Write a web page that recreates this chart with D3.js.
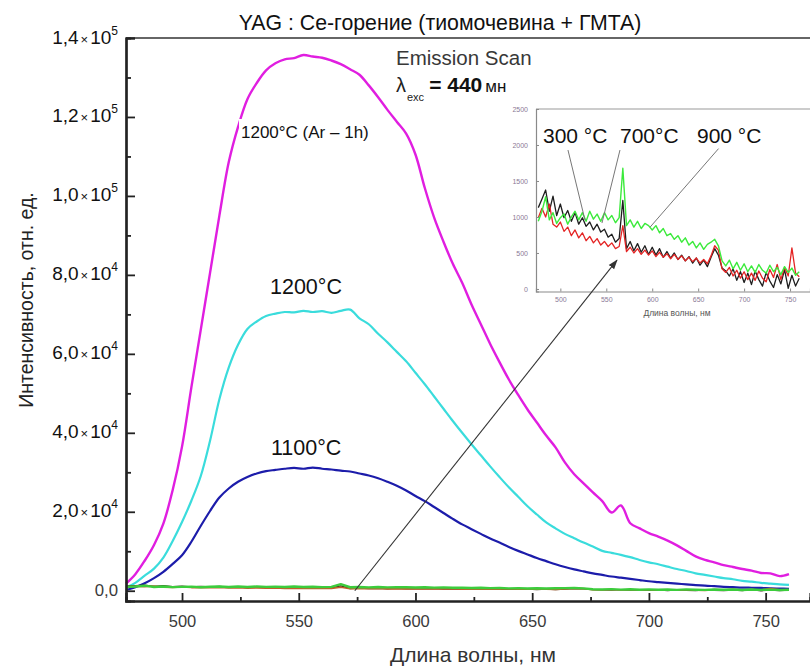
<!DOCTYPE html>
<html>
<head>
<meta charset="utf-8">
<script src="https://cdn.jsdelivr.net/npm/d3@7"></script>
<style>
  html, body { margin: 0; padding: 0; background: #fff; }
  svg { display: block; font-family: "Liberation Sans", Arial, sans-serif; }
</style>
</head>
<body>
<svg id="chart" width="810" height="668"></svg>
<script>
// Emission spectra of YAG:Ce made by combustion synthesis, excitation 440 nm
const wavelength = [476,480,484,488,492,496,500,504,508,512,516,520,524,528,532,536,540,544,548,552,556,560,564,568,572,576,580,584,588,592,596,600,604,608,612,616,620,624,628,632,636,640,644,648,652,656,660,664,668,672,676,680,684,688,692,696,700,704,708,712,716,720,724,728,732,736,740,744,748,752,756,760];

// 1200 °C, annealed in Ar for 1 h
const intensityAr1200 = [1800,4200,7600,11600,17000,25500,36500,51500,66000,80500,95000,108500,117500,124500,128600,131800,133600,134600,134900,135700,135300,135000,134300,133400,132100,130700,128000,125000,121800,118800,115800,110500,102000,94500,88400,82800,78000,72500,67500,62500,57900,53500,49600,45900,42600,39300,36300,32500,29500,27200,24900,22700,19800,21600,17100,15800,14600,13700,12700,11500,10100,8700,7800,7200,6500,6000,5500,5100,4500,4400,3700,4200];
// 1200 °C
const intensity1200 = [800,2000,3800,5600,8400,12600,17400,22800,29000,38000,48500,56500,62300,66300,68200,69600,70200,70600,70500,70900,70600,70800,70400,70900,71200,69000,67500,65100,62900,60500,58100,55200,52300,49200,46100,43000,40000,37100,34300,31500,28800,26200,23800,21400,19300,17300,15800,14400,13300,12200,11200,10100,9600,9100,8500,7800,7200,6700,6100,5500,5000,4400,4000,3600,3200,2900,2500,2300,2000,1800,1600,1500];
// 1100 °C
const intensity1100 = [200,900,1900,3200,4800,6800,9000,12400,16400,20200,23600,25900,27600,28800,29700,30300,30600,30900,31100,30900,31200,30900,30700,30400,30200,29700,29200,28500,27600,26600,25400,24000,22700,21200,19700,18200,16800,15600,14400,13200,12200,11100,10100,9200,8300,7500,6700,6000,5400,4900,4400,4000,3600,3300,3000,2700,2400,2200,2000,1800,1600,1400,1300,1150,1000,900,800,750,700,600,550,500];
// 300 °C
const intensity300 = [1130,1250,1375,1080,1290,1020,1180,990,1090,940,1060,900,990,870,930,820,900,790,830,720,760,650,700,1230,560,660,530,630,510,600,480,580,470,560,440,520,430,500,410,470,390,450,360,430,330,400,310,440,560,470,290,250,180,280,120,240,90,220,60,250,130,40,230,110,20,200,70,270,10,190,40,150];
// 700 °C
const intensity700 = [990,1120,1000,1180,900,860,930,800,860,740,820,710,780,670,730,640,700,610,660,590,640,560,590,880,520,580,500,560,480,540,470,530,450,510,440,490,420,480,410,460,390,440,380,430,360,410,350,460,600,540,280,230,300,180,260,150,240,130,220,120,250,150,100,270,160,340,130,300,180,570,220,170];
// 900 °C
const intensity900 = [940,1080,1280,960,1060,910,990,1040,900,1000,1080,960,1060,940,1080,970,1040,940,1060,960,1020,920,990,1676,880,960,860,940,840,910,880,820,880,780,840,740,770,690,740,650,710,610,660,570,640,550,620,650,690,600,390,320,400,280,370,260,350,240,320,230,340,260,220,330,240,300,200,310,230,290,190,240];

const xTicks = [500, 550, 600, 650, 700, 750];
const xMinorTicks = [525, 575, 625, 675, 725];
const yTicks = [0, 20000, 40000, 60000, 80000, 100000, 120000, 140000];
const yMinorTicks = [10000, 30000, 50000, 70000, 90000, 110000, 130000];
const yMantissa = ["0,0", "2,0", "4,0", "6,0", "8,0", "1,0", "1,2", "1,4"];
const yExponent = [null, "4", "4", "4", "4", "5", "5", "5"];
const insetXTicks = [500, 550, 600, 650, 700, 750];
const insetYTicks = [0, 500, 1000, 1500, 2000, 2500];

const svg = d3.select("#chart");

// ---------- main panel ----------
const x = d3.scaleLinear().domain([476, 769]).range([126, 810]);
const y = d3.scaleLinear().domain([-2600, 140000]).range([601, 38]);

const smoothLine = d3.line()
  .x((d, i) => x(wavelength[i]))
  .y(d => y(d))
  .curve(d3.curveCatmullRom.alpha(0.5));
const line = d3.line()
  .x((d, i) => x(wavelength[i]))
  .y(d => y(d));

function drawSeries(g, values, color, width, gen) {
  g.append("path")
    .datum(values)
    .attr("fill", "none")
    .attr("stroke", color)
    .attr("stroke-width", width)
    .attr("stroke-linejoin", "round")
    .attr("d", gen);
}

const plot = svg.append("g");
drawSeries(plot, intensityAr1200, "#e01ee0", 2.4, smoothLine);
drawSeries(plot, intensity1200, "#3adcdc", 2.2, smoothLine);
drawSeries(plot, intensity1100, "#1c1caa", 2.2, smoothLine);
drawSeries(plot, intensity300, "#3a2a1a", 1.4, line);
drawSeries(plot, intensity700, "#c0602a", 1.6, line);
drawSeries(plot, intensity900, "#3ccc3c", 2.4, line);

// top frame line
svg.append("line")
  .attr("x1", x.range()[0]).attr("x2", x.range()[1])
  .attr("y1", y.range()[1]).attr("y2", y.range()[1])
  .attr("stroke", "#333").attr("stroke-width", 1.6);

// axes (ticks point into the plot)
const xAxis = svg.append("g").attr("transform", `translate(0,${y.range()[0]})`)
  .call(d3.axisBottom(x).tickValues(xTicks).tickSize(-8).tickPadding(14).tickFormat(d3.format("d")));
svg.append("g").attr("transform", `translate(0,${y.range()[0]})`)
  .call(d3.axisBottom(x).tickValues(xMinorTicks).tickSize(-4).tickFormat(""));
svg.append("g").attr("transform", `translate(${x.range()[0]},0)`)
  .call(d3.axisRight(y).tickValues(yTicks).tickSize(9).tickFormat(""));
svg.append("g").attr("transform", `translate(${x.range()[0]},0)`)
  .call(d3.axisRight(y).tickValues(yMinorTicks).tickSize(5).tickFormat(""));

svg.selectAll(".domain").attr("stroke", "#222").attr("stroke-width", 2.2);
svg.selectAll(".tick line").attr("stroke", "#222").attr("stroke-width", 1.8);
xAxis.selectAll(".tick text")
  .attr("font-size", 16.5).attr("fill", "#3a3a3a")
  .attr("font-family", "Liberation Sans, Arial, sans-serif");

// y tick labels: mantissa × 10^exponent
yTicks.forEach((v, i) => {
  const t = svg.append("text")
    .attr("x", 118).attr("y", y(v) + 5.5)
    .attr("text-anchor", "end")
    .attr("fill", i === 0 ? "#3a3a3a" : "#111");
  if (yExponent[i] === null) {
    t.attr("font-size", 16.8).text(yMantissa[i]);
  } else {
    t.append("tspan").attr("font-size", 19).text(yMantissa[i]);
    t.append("tspan").attr("font-size", 13).attr("dx", 2).text("×");
    t.append("tspan").attr("font-size", 19).attr("dx", 2).text("10");
    t.append("tspan").attr("font-size", 12).attr("dy", -9).text(yExponent[i]);
  }
});

// axis titles and heading
svg.append("text")
  .attr("x", 440).attr("y", 30).attr("text-anchor", "middle")
  .attr("font-size", 21.3).attr("fill", "#111")
  .text("YAG : Се-горение (тиомочевина + ГМТА)");
svg.append("text")
  .attr("transform", "translate(33,300) rotate(-90)")
  .attr("text-anchor", "middle").attr("font-size", 19.5).attr("fill", "#222")
  .text("Интенсивность, отн. ед.");
svg.append("text")
  .attr("x", 473).attr("y", 662).attr("text-anchor", "middle")
  .attr("font-size", 21).attr("fill", "#333")
  .text("Длина волны, нм");

// measurement note
svg.append("text")
  .attr("x", 396).attr("y", 65).attr("font-size", 20.5).attr("fill", "#383838")
  .text("Emission Scan");
const exc = svg.append("text").attr("x", 396).attr("y", 92).attr("fill", "#222");
exc.append("tspan").attr("font-size", 20).text("λ");
exc.append("tspan").attr("font-size", 11).attr("dy", 9).attr("dx", 1).text("exc");
exc.append("tspan").attr("font-size", 21).attr("dy", -9).attr("dx", 5)
  .attr("font-weight", "bold").attr("fill", "#111").text("= 440");
exc.append("tspan").attr("font-size", 17).attr("dx", 3).attr("fill", "#111").text("мн");

// curve labels
const lab = svg.append("g");
lab.append("rect").attr("x", 239).attr("y", 119).attr("width", 153).attr("height", 30).attr("fill", "#fff");
lab.append("text").attr("x", 241).attr("y", 138).attr("font-size", 17).attr("fill", "#111")
  .text("1200°C (Ar – 1h)");
lab.append("text").attr("x", 270).attr("y", 294).attr("font-size", 21.5).attr("fill", "#111")
  .text("1200°C");
lab.append("text").attr("x", 271).attr("y", 455).attr("font-size", 21.5).attr("fill", "#111")
  .text("1100°C");

// ---------- inset: low-temperature samples ----------
const ix = d3.scaleLinear().domain([473.5, 771.7]).range([536, 810]);
const iy = d3.scaleLinear().domain([-35, 2500]).range([291.5, 109]);
const iline = d3.line().x((d, i) => ix(wavelength[i])).y(d => iy(d));

const inset = svg.append("g");
inset.append("rect")
  .attr("x", ix.range()[0]).attr("y", iy.range()[1])
  .attr("width", ix.range()[1] - ix.range()[0]).attr("height", iy.range()[0] - iy.range()[1])
  .attr("fill", "#fff");

drawSeries(inset, intensity300, "#1e1e1e", 1.3, iline);
drawSeries(inset, intensity700, "#e42424", 1.3, iline);
drawSeries(inset, intensity900, "#3cea3c", 1.4, iline);

inset.append("line")
  .attr("x1", ix.range()[0]).attr("x2", ix.range()[1])
  .attr("y1", iy.range()[1]).attr("y2", iy.range()[1])
  .attr("stroke", "#999").attr("stroke-width", 1.2);
const ixAxis = inset.append("g").attr("transform", `translate(0,${iy.range()[0]})`)
  .call(d3.axisBottom(ix).tickValues(insetXTicks).tickSize(-3).tickPadding(6).tickFormat(d3.format("d")));
const iyAxis = inset.append("g").attr("transform", `translate(${ix.range()[0]},0)`)
  .call(d3.axisLeft(iy).tickValues(insetYTicks).tickSize(-3).tickPadding(8).tickFormat(d3.format("d")));
[ixAxis, iyAxis].forEach(a => {
  a.select(".domain").attr("stroke", "#8a8a8a").attr("stroke-width", 1.2);
  a.selectAll(".tick line").attr("stroke", "#8a8a8a").attr("stroke-width", 1);
  a.selectAll(".tick text").attr("font-size", 7).attr("fill", "#8a7a96");
});
inset.append("text")
  .attr("x", 677).attr("y", 316).attr("text-anchor", "middle")
  .attr("font-size", 8.5).attr("fill", "#555")
  .text("Длина волны, нм");

// inset labels with leader lines to the curves
const leaders = [
  { text: "300 °C", tx: 543, from: [508.3, 1930], to: [526.8, 958] },
  { text: "700°C", tx: 620, from: [564.9, 1930], to: [545.3, 916] },
  { text: "900 °C", tx: 697, from: [672.2, 1950], to: [597.6, 858] }
];
leaders.forEach(l => {
  inset.append("line")
    .attr("x1", ix(l.from[0])).attr("y1", iy(l.from[1]))
    .attr("x2", ix(l.to[0])).attr("y2", iy(l.to[1]))
    .attr("stroke", "#777").attr("stroke-width", 1);
  inset.append("text").attr("x", l.tx).attr("y", 142.5)
    .attr("font-size", 21).attr("fill", "#111").text(l.text);
});

// arrow from the baseline curves to the inset
svg.append("defs").append("marker")
  .attr("id", "head").attr("viewBox", "0 0 10 10").attr("refX", 9).attr("refY", 5)
  .attr("markerWidth", 9).attr("markerHeight", 9).attr("orient", "auto")
  .append("path").attr("d", "M0,1.5 L10,5 L0,8.5 Z").attr("fill", "#333");
svg.append("line")
  .attr("x1", x(574)).attr("y1", y(0))
  .attr("x2", ix(561.6)).attr("y2", iy(400))
  .attr("stroke", "#333").attr("stroke-width", 1.1)
  .attr("marker-end", "url(#head)");
</script>
</body>
</html>
